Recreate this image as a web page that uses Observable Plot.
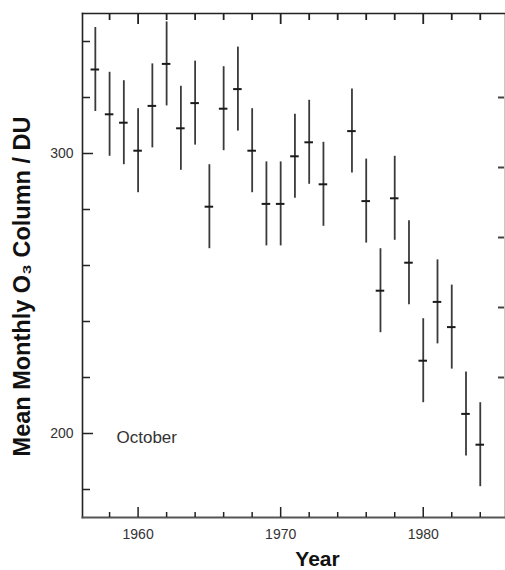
<!DOCTYPE html>
<html><head><meta charset="utf-8">
<script src="https://cdn.jsdelivr.net/npm/d3@7"></script>
<script src="https://cdn.jsdelivr.net/npm/@observablehq/plot@0.6"></script>
<style>body{margin:0;background:#fff;}</style>
</head><body><div id="chart"></div>
<script>
// ---- data ----
const years  = [1957,1958,1959,1960,1961,1962,1963,1964,1965,1966,1967,1968,1969,1970,1971,1972,1973,
                1975,1976,1977,1978,1979,1980,1981,1982,1983,1984];
const means  = [330,314,311,301,317,332,309,318,281,316,323,301,282,282,299,304,289,
                308,283,251,284,261,226,247,238,207,196];
const errors = [15,15,15,15,15,15,15,15,15,15,15,15,15,15,15,15,15,
                15,15,15,15,15,15,15,15,15,15];

const xTickLabels = [1960, 1970, 1980];
const xTicksMinor = [1958,1962,1964,1966,1968,1972,1974,1976,1978,1982,1984];
const yTickLabels = [200, 300];
const yTicksMinor = [180,220,240,260,280,320,340];
const rightTicks  = [320,295,270,245,220];
const panelLabel  = ["October"];
const xTitle = ["Year"];
const yTitle = ["Mean Monthly O\u2083 Column / DU"];

const W = 505, H = 570, mL = 82, mR = 1, mT = 13, mB = 53;
const pw = W - mL - mR, ph = H - mT - mB;
const ink = "#222";

const data = years.map((year, i) => ({year, mean: means[i], err: errors[i]}));

const chart = Plot.plot({
  width: W, height: H,
  marginLeft: mL, marginRight: mR, marginTop: mT, marginBottom: mB,
  style: {fontFamily: "'Liberation Sans', Arial, Helvetica, sans-serif", fontSize: "14px", color: "#333", background: "#fff"},
  x: {domain: [1956.1, 1985.7]},
  y: {domain: [170, 350]},
  marks: [
    Plot.frame({stroke: "#c8c8c8", strokeWidth: 1}),
    Plot.frame({anchor: "left", stroke: ink, strokeWidth: 1.6}),
    Plot.frame({anchor: "top", stroke: ink, strokeWidth: 1.6}),
    Plot.frame({anchor: "bottom", stroke: "#555", strokeWidth: 2}),
    // inward ticks
    Plot.ruleY(yTickLabels, {insetRight: pw - 11, stroke: ink, strokeWidth: 1.5}),
    Plot.ruleY(yTicksMinor, {insetRight: pw - 8, stroke: ink, strokeWidth: 1.5}),
    Plot.ruleY(rightTicks, {insetLeft: pw - 6, stroke: "#444", strokeWidth: 2}),
    Plot.ruleX(xTickLabels, {insetTop: ph - 10, stroke: ink, strokeWidth: 1.5}),
    Plot.ruleX(xTicksMinor, {insetTop: ph - 5, stroke: ink, strokeWidth: 1.5}),
    Plot.ruleX(xTickLabels, {insetBottom: ph - 11, stroke: ink, strokeWidth: 1.8}),
    Plot.ruleX(xTicksMinor, {insetBottom: ph - 7, stroke: ink, strokeWidth: 1.8}),
    // tick labels
    Plot.axisX(xTickLabels, {tickSize: 0, tickPadding: 12, fontSize: 14, fill: "#333", label: null, tickFormat: d => String(d)}),
    Plot.axisY(yTickLabels, {tickSize: 0, tickPadding: 9, fontSize: 14, fill: "#333", label: null}),
    // error bars and means
    Plot.ruleX(data, {x: "year", y1: d => d.mean - d.err, y2: d => d.mean + d.err, stroke: "#3a3a3a", strokeWidth: 1.8}),
    Plot.ruleY(data, {y: "mean", x1: d => d.year - 0.3, x2: d => d.year + 0.3, stroke: "#1a1a1a", strokeWidth: 2}),
    // texts
    Plot.text(panelLabel, {frameAnchor: "bottom-left", textAnchor: "start", lineAnchor: "middle", dx: 34, dy: -80, fontSize: 17, fill: "#333"}),
    Plot.text(xTitle, {frameAnchor: "bottom", textAnchor: "middle", lineAnchor: "middle", dx: 24, dy: 42, fontSize: 21, fontWeight: "bold", fill: "#111"}),
    Plot.text(yTitle, {frameAnchor: "left", textAnchor: "middle", lineAnchor: "middle", rotate: -90, dx: -60, dy: 21, fontSize: 23.5, fontWeight: "bold", fill: "#111"})
  ]
});
document.getElementById("chart").appendChild(chart);
</script>
</body></html>
